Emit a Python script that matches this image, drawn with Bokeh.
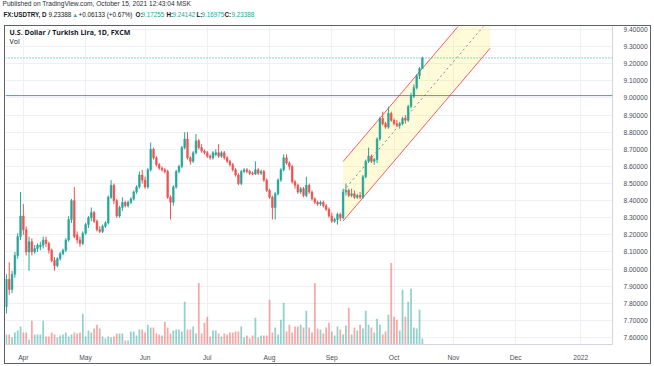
from bokeh.plotting import figure
from bokeh.models import (ColumnDataSource, FixedTicker, PrintfTickFormatter, Label, Span,
                          Range1d, Div, Spacer)
from bokeh.layouts import column, row
from bokeh.embed import file_html
from bokeh.resources import INLINE

# ---------------- data ----------------
opens = [7.78, 7.94, 7.88, 7.97, 8.08, 8.19, 8.31, 8.23, 8.10, 8.16,
         8.10, 8.12, 8.13, 8.14, 8.17, 8.15, 8.11, 8.05, 8.02, 8.06,
         8.09, 8.11, 8.17, 8.29, 8.40, 8.20, 8.17, 8.15, 8.21, 8.26,
         8.30, 8.33, 8.28, 8.23, 8.22, 8.25, 8.27, 8.42, 8.49, 8.40,
         8.31, 8.36, 8.39, 8.37, 8.39, 8.41, 8.45, 8.48, 8.55, 8.52,
         8.48, 8.58, 8.70, 8.65, 8.61, 8.59, 8.58, 8.57, 8.42, 8.39,
         8.48, 8.57, 8.60, 8.71, 8.76, 8.65, 8.63, 8.68, 8.75, 8.71,
         8.69, 8.68, 8.66, 8.65, 8.67, 8.68, 8.66, 8.68, 8.65, 8.63,
         8.61, 8.58, 8.55, 8.50, 8.57, 8.58, 8.57, 8.56, 8.555, 8.58,
         8.56, 8.57, 8.52, 8.46, 8.42, 8.36, 8.44, 8.52, 8.58, 8.65,
         8.62, 8.60, 8.51, 8.49, 8.45, 8.47, 8.43, 8.49, 8.45, 8.41,
         8.39, 8.38, 8.39, 8.37, 8.35, 8.31, 8.28, 8.29, 8.32, 8.30,
         8.45, 8.46, 8.43, 8.44, 8.42, 8.43, 8.42, 8.54, 8.63, 8.66,
         8.63, 8.64, 8.76, 8.88, 8.85, 8.83, 8.91, 8.87, 8.85, 8.84,
         8.85, 8.88, 8.87, 8.95, 9.01, 9.06, 9.13, 9.17255]
highs = [7.97, 8.04, 7.99, 8.10, 8.21, 8.45, 8.38, 8.25, 8.19, 8.18,
         8.14, 8.15, 8.16, 8.19, 8.19, 8.16, 8.12, 8.07, 8.07, 8.10,
         8.12, 8.18, 8.31, 8.41, 8.48, 8.22, 8.19, 8.22, 8.27, 8.31,
         8.36, 8.34, 8.29, 8.25, 8.26, 8.28, 8.43, 8.52, 8.50, 8.41,
         8.37, 8.42, 8.40, 8.40, 8.42, 8.46, 8.49, 8.57, 8.58, 8.54,
         8.59, 8.74, 8.71, 8.66, 8.62, 8.60, 8.59, 8.58, 8.43, 8.49,
         8.58, 8.61, 8.72, 8.80, 8.80, 8.66, 8.69, 8.79, 8.76, 8.73,
         8.70, 8.69, 8.67, 8.69, 8.70, 8.73, 8.69, 8.69, 8.66, 8.64,
         8.62, 8.59, 8.56, 8.58, 8.59, 8.59, 8.58, 8.57, 8.63, 8.59,
         8.58, 8.58, 8.53, 8.47, 8.43, 8.45, 8.53, 8.59, 8.67, 8.67,
         8.63, 8.61, 8.52, 8.50, 8.48, 8.48, 8.54, 8.50, 8.46, 8.42,
         8.40, 8.40, 8.40, 8.38, 8.36, 8.33, 8.30, 8.33, 8.33, 8.47,
         8.50, 8.47, 8.47, 8.46, 8.44, 8.45, 8.55, 8.64, 8.71, 8.67,
         8.65, 8.77, 8.89, 8.92, 8.86, 8.95, 8.92, 8.88, 8.87, 8.86,
         8.89, 8.90, 8.96, 9.03, 9.08, 9.14, 9.18, 9.24142]
lows = [7.74, 7.85, 7.86, 7.95, 8.06, 8.17, 8.20, 8.08, 7.99, 8.08,
        8.09, 8.10, 8.11, 8.12, 8.13, 8.09, 8.04, 7.99, 8.01, 8.05,
        8.08, 8.10, 8.16, 8.27, 8.18, 8.15, 8.13, 8.14, 8.20, 8.24,
        8.28, 8.27, 8.22, 8.21, 8.21, 8.24, 8.26, 8.41, 8.38, 8.30,
        8.30, 8.34, 8.36, 8.36, 8.38, 8.40, 8.44, 8.47, 8.50, 8.47,
        8.47, 8.57, 8.64, 8.60, 8.58, 8.57, 8.56, 8.41, 8.29, 8.37,
        8.47, 8.56, 8.59, 8.70, 8.64, 8.61, 8.62, 8.67, 8.70, 8.68,
        8.67, 8.65, 8.64, 8.64, 8.66, 8.65, 8.65, 8.64, 8.62, 8.60,
        8.57, 8.54, 8.49, 8.49, 8.56, 8.56, 8.55, 8.55, 8.55, 8.55,
        8.55, 8.51, 8.45, 8.41, 8.29, 8.29, 8.43, 8.51, 8.57, 8.61,
        8.58, 8.50, 8.47, 8.44, 8.44, 8.42, 8.42, 8.44, 8.40, 8.38,
        8.37, 8.37, 8.36, 8.34, 8.30, 8.27, 8.27, 8.26, 8.28, 8.29,
        8.43, 8.42, 8.42, 8.41, 8.41, 8.41, 8.41, 8.53, 8.62, 8.62,
        8.61, 8.62, 8.75, 8.84, 8.82, 8.82, 8.86, 8.84, 8.83, 8.82,
        8.84, 8.85, 8.86, 8.94, 9.00, 9.05, 9.11, 9.16975]
closes = [7.94, 7.88, 7.97, 8.08, 8.19, 8.31, 8.23, 8.10, 8.16, 8.10,
          8.12, 8.14, 8.14, 8.17, 8.15, 8.11, 8.05, 8.02, 8.06, 8.09,
          8.11, 8.17, 8.29, 8.40, 8.19, 8.17, 8.15, 8.21, 8.26, 8.30,
          8.33, 8.28, 8.23, 8.22, 8.25, 8.27, 8.42, 8.49, 8.40, 8.31,
          8.36, 8.39, 8.37, 8.39, 8.41, 8.45, 8.48, 8.55, 8.52, 8.48,
          8.58, 8.70, 8.65, 8.61, 8.59, 8.58, 8.57, 8.42, 8.39, 8.48,
          8.57, 8.60, 8.71, 8.76, 8.65, 8.63, 8.68, 8.75, 8.71, 8.69,
          8.68, 8.66, 8.65, 8.68, 8.68, 8.66, 8.68, 8.65, 8.63, 8.61,
          8.58, 8.55, 8.50, 8.57, 8.58, 8.57, 8.56, 8.555, 8.58, 8.56,
          8.57, 8.52, 8.46, 8.42, 8.36, 8.44, 8.52, 8.58, 8.65, 8.62,
          8.60, 8.51, 8.49, 8.45, 8.47, 8.43, 8.49, 8.45, 8.41, 8.39,
          8.38, 8.39, 8.37, 8.35, 8.31, 8.28, 8.29, 8.32, 8.30, 8.45,
          8.46, 8.43, 8.44, 8.42, 8.43, 8.42, 8.54, 8.63, 8.66, 8.63,
          8.64, 8.76, 8.88, 8.85, 8.83, 8.91, 8.87, 8.85, 8.84, 8.85,
          8.88, 8.87, 8.95, 9.01, 9.06, 9.13, 9.17255, 9.23388]
volumes = [10, 10, 7, 12, 14, 18, 12, 12, 5, 24,
           10, 10, 10, 24, 8, 8, 12, 10, 7, 9,
           10, 12, 8, 10, 12, 11, 12, 31, 8, 14,
           12, 16, 20, 16, 8, 6, 8, 7, 8, 11,
           11, 11, 4, 4, 13, 13, 9, 15, 15, 12,
           20, 17, 17, 11, 10, 9, 23, 17, 11, 14,
           15, 15, 13, 43, 15, 15, 18, 11, 62, 11,
           22, 28, 8, 14, 14, 11, 8, 11, 10, 12,
           12, 13, 13, 18, 7, 9, 6, 9, 27, 7,
           9, 9, 9, 45, 12, 17, 10, 25, 42, 13,
           20, 12, 18, 18, 20, 17, 34, 17, 12, 62,
           16, 15, 11, 17, 22, 13, 9, 18, 15, 10,
           19, 37, 10, 17, 14, 20, 16, 34, 20, 17,
           12, 26, 20, 10, 13, 30, 82, 28, 25, 14,
           55, 28, 43, 56, 17, 16, 35, 6]

month_tick_idx = [6, 28, 49, 71, 93, 115, 137, 158, 180, 203]
month_labels = ["Apr", "May", "Jun", "Jul", "Aug", "Sep", "Oct", "Nov", "Dec", "2022"]
price_ticks = [7.6, 7.7, 7.8, 7.9, 8.0, 8.1, 8.2, 8.3, 8.4, 8.5,
               8.6, 8.7, 8.8, 8.9, 9.0, 9.1, 9.2, 9.3, 9.4]

last_open, last_high, last_low, last_close = 9.17255, 9.24142, 9.16975, 9.23388
change, change_pct = 0.06133, 0.67
alert_price = 9.01397

# regression channel (start bar, end bar, middle line prices, half width)
chan_start, chan_end = 119, 171
chan_mid_start, chan_mid_end = 8.455, 9.465
chan_half = 0.174

# ---------------- styling ----------------
UP = "#26a69a"
DOWN = "#ef5350"
TXT = "#131722"
AX = "#4a4e58"
BORDER = "#5d606b"
FONT = "Open Sans"
HFONT = "Liberation Sans"

n = len(closes)
idx = list(range(n))
up = [c >= o for o, c in zip(opens, closes)]
src = ColumnDataSource(dict(
    x=idx, open=opens, high=highs, low=lows, close=closes, vol=volumes,
    top=[max(o, c) for o, c in zip(opens, closes)],
    bottom=[min(o, c) for o, c in zip(opens, closes)],
    color=[UP if u else DOWN for u in up],
))

W = 654
HDR_H = 25
# ---------- header ----------
hdr = figure(width=W, height=HDR_H, toolbar_location=None, output_backend="svg",
             x_axis_location=None, y_axis_location=None, min_border=0,
             x_range=Range1d(0, 1), y_range=Range1d(0, 1), outline_line_color=None,
             margin=0)
hdr.grid.visible = False


def hlabel(x, y, text, color=TXT, bold=False, size="6.3px"):
    hdr.add_layout(Label(x=x, y=y, x_units="screen", y_units="screen", text=text,
                         text_font=HFONT, text_font_size=size, text_color=color,
                         text_font_style="bold" if bold else "normal",
                         text_baseline="middle", text_align="left"))


hlabel(2, 22, "Published on TradingView.com, October 15, 2021 12:43:04 MSK",
       color="#2a2e39", size="6.6px")
y2 = 11
hlabel(3, y2, "FX:USDTRY, D", bold=True)
hlabel(48, y2, f"{last_close:.5f}")
hlabel(72, y2, "\u25b2", color=UP, size="5.5px")
hlabel(78, y2, f"+{change:.5f} (+{change_pct:.2f}%)")
hlabel(135, y2, "O:", bold=True)
hlabel(141, y2, f"{last_open:.5f}", color=UP)
hlabel(166, y2, "H:", bold=True)
hlabel(172, y2, f"{last_high:.5f}", color=UP)
hlabel(196, y2, "L:", bold=True)
hlabel(201, y2, f"{last_low:.5f}", color=UP)
hlabel(224, y2, "C:", bold=True)
hlabel(231, y2, f"{last_close:.5f}", color=UP)

# ---------- chart ----------
CH_W, CH_H = 645, 337
p = figure(width=CH_W, height=CH_H, toolbar_location=None, output_backend="svg",
           y_axis_location="right", x_range=Range1d(-0.315, 214.2),
           y_range=Range1d(7.5593, 9.4177), min_border_left=0, min_border_top=0,
           min_border_right=33, min_border_bottom=17, outline_line_color=None,
           margin=0)
p.extra_y_ranges = {"vol": Range1d(0, 320)}

# grid
p.xgrid.grid_line_color = "#eef0f5"
p.ygrid.grid_line_color = "#eef0f5"

# axes
p.yaxis.ticker = FixedTicker(ticks=price_ticks)
p.yaxis.formatter = PrintfTickFormatter(format="%.5f")
p.xaxis.ticker = FixedTicker(ticks=month_tick_idx)
p.xaxis.major_label_overrides = {t: l for t, l in zip(month_tick_idx, month_labels)}
for ax in (p.xaxis[0], p.yaxis[0]):
    ax.axis_line_color = "#d1d4dc"
    ax.major_tick_line_color = None
    ax.minor_tick_line_color = None
    ax.major_label_text_font = HFONT
    ax.major_label_text_font_size = "6.7px"
    ax.major_label_text_color = AX
p.yaxis.major_label_standoff = 5
p.xaxis.major_label_standoff = 3

# volume
p.vbar(x="x", top="vol", bottom=0, width=0.62, source=src, y_range_name="vol",
       fill_color="color", fill_alpha=0.5, line_color=None)

# regression channel
ch_x = [chan_start, chan_end, chan_end, chan_start]
ch_y = [chan_mid_start + chan_half, chan_mid_end + chan_half,
        chan_mid_end - chan_half, chan_mid_start - chan_half]
p.patch(ch_x, ch_y, fill_color="#ffeb3b", fill_alpha=0.2, line_color=None)
p.line([chan_start, chan_end], [chan_mid_start + chan_half, chan_mid_end + chan_half],
       line_color="#f23645", line_width=1, line_alpha=0.8)
p.line([chan_start, chan_end], [chan_mid_start - chan_half, chan_mid_end - chan_half],
       line_color="#f23645", line_width=1, line_alpha=0.8)
p.line([chan_start, chan_end], [chan_mid_start, chan_mid_end],
       line_color="#7b8bab", line_width=1, line_dash="2 3")

# candles
p.segment(x0="x", x1="x", y0="low", y1="high", source=src, line_color="color", line_width=1)
p.vbar(x="x", top="top", bottom="bottom", width=0.62, source=src,
       fill_color="color", line_color="color", line_width=0.5)

# price lines
p.add_layout(Span(location=alert_price, dimension="width", line_color="#2962ff",
                  line_width=1, line_alpha=0.75))
p.add_layout(Span(location=last_close, dimension="width", line_color=UP,
                  line_width=1, line_dash="1 2"))

# price boxes on the axis
for price, col in ((last_close, UP), (alert_price, "#2962ff")):
    p.add_layout(Label(x=613, y=price, x_units="screen", y_units="data",
                       text=f"{price:.5f}", text_font=HFONT, text_font_size="6.7px",
                       text_color="white", text_baseline="middle", text_align="left",
                       background_fill_color=col, padding=(1, 3, 1, 3)))

# legend texts in the pane
p.add_layout(Label(x=4, y=312, x_units="screen", y_units="screen",
                   text="U.S. Dollar / Turkish Lira, 1D, FXCM", text_font=FONT,
                   text_font_size="7px", text_font_style="bold", text_color=TXT,
                   text_baseline="middle"))
p.add_layout(Label(x=4, y=303, x_units="screen", y_units="screen", text="Vol",
                   text_font=FONT, text_font_size="7px", text_color=TXT,
                   text_baseline="middle"))


def box(w, h):
    return Div(width=w, height=h, margin=0,
               text=f'<div style="width:{w}px;height:{h}px;background:{BORDER}"></div>',
               styles={"background-color": BORDER, "overflow": "hidden"})


def gap(w, h):
    return Spacer(width=w, height=h, margin=0)


layout = column(
    hdr,
    row(gap(4, 1), box(647, 1), spacing=0, margin=0),
    row(gap(4, CH_H), box(1, CH_H), p, box(1, CH_H), spacing=0, margin=0),
    row(gap(4, 1), box(647, 1), spacing=0, margin=0),
    spacing=0, margin=0,
)
open("out.html", "w").write(file_html(layout, INLINE))
